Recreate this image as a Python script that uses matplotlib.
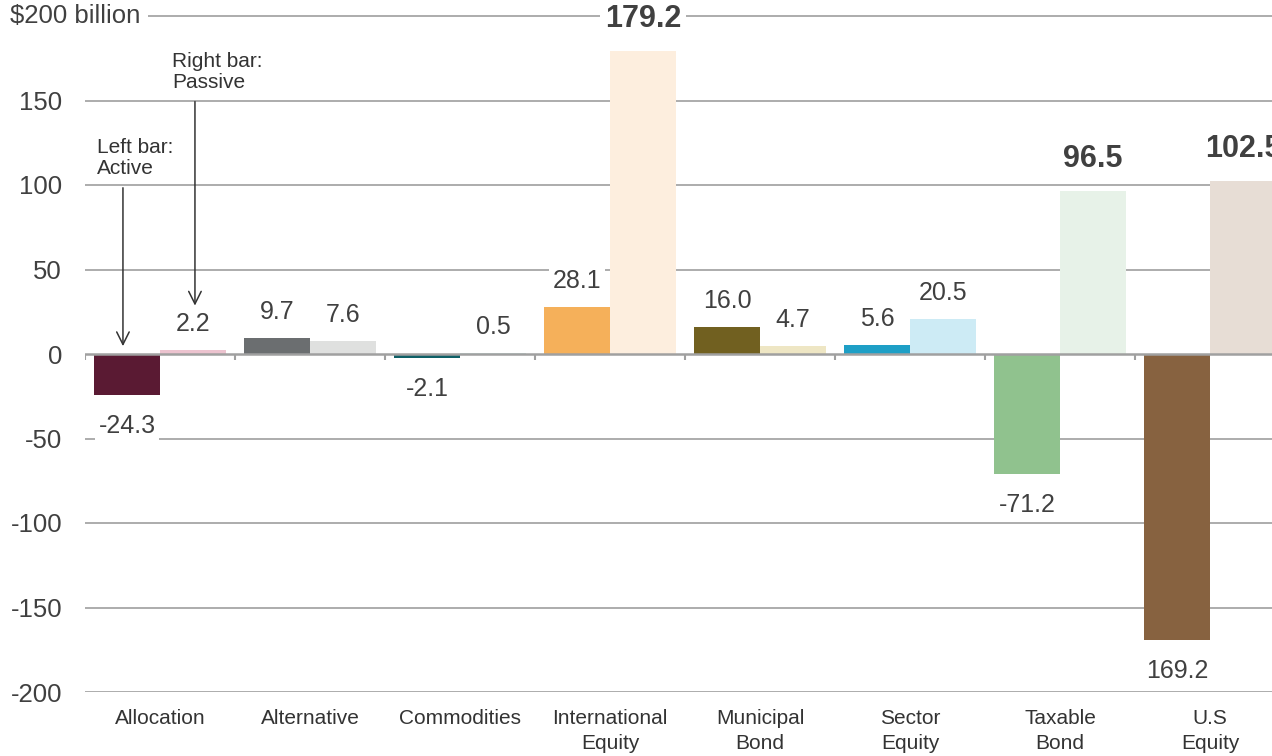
import matplotlib
matplotlib.use("Agg")
import matplotlib.pyplot as plt
from matplotlib.transforms import blended_transform_factory

plt.rcParams['font.family'] = ['Liberation Sans', 'DejaVu Sans']

categories = ["Allocation", "Alternative", "Commodities", "International\nEquity",
              "Municipal\nBond", "Sector\nEquity", "Taxable\nBond", "U.S\nEquity"]
active = [-24.3, 9.7, -2.1, 28.1, 16.0, 5.6, -71.2, -169.2]
passive = [2.2, 7.6, 0.5, 179.2, 4.7, 20.5, 96.5, 102.5]
active_labels = ["-24.3", "9.7", "-2.1", "28.1", "16.0", "5.6", "-71.2", "169.2"]
passive_labels = ["2.2", "7.6", "0.5", "179.2", "4.7", "20.5", "96.5", "102.5"]
passive_bold = [False, False, False, True, False, False, True, True]
active_colors = ["#5a1a33", "#6b6e70", "#0e5f66", "#f5b05a", "#716020", "#1e9fc6", "#90c28e", "#876240"]
passive_colors = ["#ecc3cf", "#dfe0df", "#cfe5e4", "#fdeede", "#eee6c4", "#cdebf5", "#e7f2e8", "#e7ddd5"]
yticks = [-200, -150, -100, -50, 0, 50, 100, 150]
ytick_labels = ["-200", "-150", "-100", "-50", "0", "50", "100", "150"]
top_label = "$200 billion"

W, H = 1272, 756
fig = plt.figure(figsize=(W / 100, H / 100), dpi=100)
ax = fig.add_axes([85 / W, (H - 692) / H, 1200 / W, 676 / H])
ax.set_xlim(-0.5, 7.5)
ax.set_ylim(-200, 200)
for s in ax.spines.values():
    s.set_visible(False)
ax.set_xticks([])
ax.set_yticks(yticks)
ax.set_yticklabels(ytick_labels, fontsize=18.5, color="#404040")
ax.tick_params(axis='y', length=0, pad=16.5)

grid_c = "#a6a6a6"
for y in yticks[:4] + yticks[5:]:
    ax.axhline(y, color=grid_c, lw=1.3, zorder=0)
ax.axhline(200, color=grid_c, lw=1.3, zorder=0, clip_on=False)
ax.axhline(0, color="#a0a0a0", lw=1.8, zorder=3)
ax.vlines([i - 0.5 for i in range(9)], -3.8, 0, color="#a0a0a0", lw=1.5, zorder=3)

w = 0.44
xs = list(range(len(categories)))
ax.bar([x - w / 2 for x in xs], active, width=w, color=active_colors, zorder=2)
ax.bar([x + w / 2 for x in xs], passive, width=w, color=passive_colors, zorder=2)

bb = dict(boxstyle="square,pad=0.15", fc="white", ec="none")
txt_c = "#404040"
for x, v, lab in zip(xs, active, active_labels):
    off = 26 if v >= 0 else -31
    ax.annotate(lab, (x - w / 2, v), xytext=(0, off * 0.72), textcoords="offset points",
                ha="center", va="center", fontsize=18, color=txt_c, bbox=bb, zorder=4)
for x, v, lab, b in zip(xs, passive, passive_labels, passive_bold):
    off = 32 if b else 26
    ax.annotate(lab, (x + w / 2, v), xytext=(0, off * 0.72), textcoords="offset points",
                ha="center", va="center", fontsize=22 if b else 18,
                fontweight="bold" if b else "normal", color=txt_c, bbox=bb, zorder=4,
                annotation_clip=False)

# top axis label
ax.text(10 / W, 200, top_label, transform=blended_transform_factory(fig.transFigure, ax.transData),
        ha="left", va="center", fontsize=18.5, color=txt_c,
        bbox=dict(boxstyle="square,pad=0.3", fc="white", ec="none"), zorder=5)

# category labels
tr = blended_transform_factory(ax.transData, ax.transAxes)
for x, c in zip(xs, categories):
    ax.annotate(c, (x, 0), xycoords=tr, xytext=(0, -12), textcoords="offset points",
                ha="center", va="top", fontsize=15, color="#333333", linespacing=1.4,
                annotation_clip=False)

# annotations
ax.text(-0.42, 116, "Left bar:\nActive", fontsize=15, color="#333333", ha="left", va="center",
        linespacing=1.15)
ax.annotate("", xy=(-0.247, 3), xytext=(-0.247, 100),
            arrowprops=dict(arrowstyle="->,head_length=0.9,head_width=0.45", color="#333333", lw=1.1))
ax.text(0.08, 167, "Right bar:\nPassive", fontsize=15, color="#333333", ha="left", va="center",
        linespacing=1.15)
ax.annotate("", xy=(0.233, 27), xytext=(0.233, 151),
            arrowprops=dict(arrowstyle="->,head_length=0.9,head_width=0.45", color="#333333", lw=1.1))

fig.savefig("out.png", dpi=100)
